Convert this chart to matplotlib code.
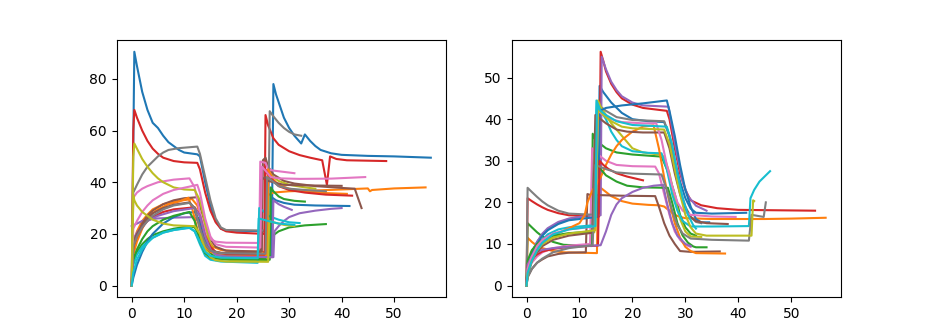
import matplotlib
matplotlib.use("Agg")
import matplotlib.pyplot as plt

# left panel: one list of (x, y) points per curve, in colour-cycle order
l01 = [(0, 0), (0.5, 90.5), (1, 85), (1.5, 80), (2, 75), (3, 68), (4, 63), (5, 61), (6, 58), (7, 55.5), (8, 54),
       (9, 52.5), (10, 51.5), (12.5, 50.8), (13, 50), (14, 40), (15, 31), (16, 25), (17, 22), (18, 21.3), (26.7, 21),
       (27, 78), (27.5, 74), (28, 71), (29, 65), (30, 61), (31, 58), (32.3, 55), (33, 58.5), (34, 56), (35, 54),
       (36, 52.5), (38, 51.2), (40, 50.6), (45, 50.2), (50, 50), (57, 49.5)]
l02 = [(0, 0), (0.3, 16), (1, 21), (2, 25), (3, 27.5), (4, 29.5), (6, 31.5), (8, 32.5), (11.5, 33.5), (12.5, 31),
       (13.5, 24), (14.5, 18), (15.5, 15), (17, 13.8), (20, 13.2), (25.8, 13), (26, 35), (27, 36), (30, 36.5),
       (35, 36.8), (40, 37.2), (45, 37.6), (45.4, 36.5), (45.8, 37), (50, 37.6), (56, 38)]
l03 = [(0, 0), (0.3, 10), (1, 13), (2, 16), (3, 18), (4, 19.5), (6, 21), (8, 22), (11, 23), (12, 22.5), (13, 19),
       (14, 15), (15, 12.5), (16, 11), (18, 10.5), (25.8, 10.3), (26, 17.5), (27, 19.5), (28, 21), (30, 22.5),
       (33, 23.3), (37, 23.8)]
l04 = [(0, 0), (0.3, 60), (0.5, 68), (1, 65), (2, 60), (3, 56), (4, 53), (5, 51), (6, 49.5), (8, 48.2), (10, 47.7),
       (12.5, 47.5), (13, 45), (14, 36), (15, 29), (16, 24.5), (17, 22), (18, 21), (20, 20.5), (25.3, 20), (25.5, 66),
       (26, 62), (27, 57), (28, 54.5), (30, 52), (32, 50.5), (34, 49.5), (36.3, 48.5), (37.2, 39), (37.8, 50),
       (39, 49), (41, 48.5), (48.5, 48.2)]
l05 = [(0, 23), (1, 24), (2, 25), (3, 25.5), (5, 26), (8, 26.3), (12, 26.5), (13, 24), (14, 18), (15, 14), (16, 12),
       (18, 11.2), (27, 11), (27.2, 21), (28, 23), (29, 25), (30, 26.5), (32, 28), (35, 29), (38, 29.7), (40, 30)]
l06 = [(0, 0), (0.3, 14), (1, 19), (2, 24), (3, 27), (4, 29), (6, 31.5), (8, 33), (10, 33.8), (12.5, 34.2), (13, 31),
       (14, 24), (15, 18), (16, 15), (18, 13.5), (24.8, 13.2), (25, 48.5), (25.5, 49.5), (26, 46), (27, 43),
       (29, 40.5), (31, 39.5), (35, 38.5), (40, 37.8), (42.5, 37.5), (43.8, 30)]
l07 = [(0, 0), (0.3, 34), (1, 36), (2, 37.5), (3, 38.5), (5, 40), (8, 41), (11, 41.5), (12, 38), (13, 28), (14, 21),
       (15, 18), (16, 17), (18, 16.6), (24.3, 16.5), (24.5, 48), (25.5, 47.5), (26, 45), (27, 44.5), (29, 44),
       (31, 43.5)]
l08 = [(0, 0), (0.3, 36), (1, 39), (2, 43), (3, 46), (4, 48), (5, 50), (6, 51.5), (7, 52.5), (9, 53.2), (12.5, 53.8),
       (13, 51), (14, 42), (15, 33), (16, 26), (17, 22.5), (18, 21.5), (26, 21.3), (26.3, 67.5), (27, 65.5),
       (28, 63), (29, 61), (30, 59.5), (31, 58.5), (32.3, 58)]
l09 = [(0, 0), (0.3, 50), (0.5, 55), (1, 53), (2, 49), (3, 46), (4, 43.5), (5, 41.5), (6, 40), (8, 38), (10, 37.2),
       (12, 37), (13, 33), (14, 24), (15, 16), (16, 12), (17, 10.5), (19, 9.8), (25.8, 9.5), (26, 44), (27, 42),
       (28, 40.5), (30, 39), (33, 38), (35, 37.5)]
l10 = [(0, 0), (0.3, 8), (1, 12), (2, 15), (3, 17), (4, 18.5), (6, 20.5), (8, 21.5), (11, 22.5), (12, 21), (13, 16),
       (14, 11.5), (15, 10), (17, 9.3), (24, 8.8), (24.3, 30), (25, 29), (26, 27), (28, 25.5), (30, 24.5), (32, 24.2)]
l11 = [(0, 0), (0.3, 3), (1, 8), (2, 13), (3, 17), (4, 20), (5, 22), (6, 24), (8, 26.5), (10, 28), (12, 28.5),
       (13, 25), (14, 18), (15, 14), (16, 12.5), (18, 11.7), (26.6, 11.5), (26.8, 34), (27.5, 33), (29, 32),
       (31, 31.3), (35, 31), (41.5, 30.8)]
l12 = [(0, 0), (0.3, 12), (1, 17), (2, 22), (3, 26), (4, 28), (5, 29.5), (7, 31.5), (9, 32.5), (10.8, 34), (11.5, 30),
       (12.5, 22), (13.5, 16), (15, 13), (17, 12), (25.8, 11.8), (26, 45), (27, 41), (28, 39), (30, 37.5), (33, 36.5),
       (37, 35.8), (41, 35.5)]
l13 = [(0, 0), (0.3, 10), (1, 14), (2, 18), (3, 21), (4, 23), (6, 25.5), (8, 27), (11, 28.5), (12, 25), (13, 17),
       (14, 12.5), (15, 10.8), (17, 10.2), (26.3, 10), (26.5, 38), (27, 36.5), (28, 34.5), (29, 33.5), (31, 32.8),
       (33, 32.5)]
l14 = [(0, 0), (0.3, 15), (1, 19), (2, 22.5), (3, 25), (4, 26.5), (6, 28.5), (8, 29.5), (12, 30.3), (13, 27), (14, 19),
       (15, 15), (16, 13), (18, 12.2), (25.3, 12), (25.5, 45), (26, 43), (27, 40.5), (28, 38.5), (30, 37), (33, 36),
       (37, 35.2), (42, 34.8)]
l15 = [(0, 0), (0.3, 18), (1, 20.5), (2, 23), (3, 25), (5, 27), (8, 28.8), (12, 30), (13, 27), (14, 19), (15, 14),
       (16, 12), (18, 11.2), (26.8, 11), (27, 33), (28, 31.5), (29, 30.5), (30.5, 29.3)]
l16 = [(0, 0), (0.3, 17), (1, 20), (2, 23.5), (3, 26), (4, 28), (6, 30), (8, 31.3), (11, 32.2), (12, 30), (13, 22),
       (14, 16), (15, 13.5), (17, 12.7), (24.5, 12.5), (24.8, 41), (25.5, 42), (26, 40.5), (27, 40), (29, 39),
       (32, 38.8), (40, 38.6)]
l17 = [(0, 0), (0.3, 22), (1, 25), (2, 28.5), (3, 31), (4, 33), (6, 35.5), (8, 37), (11, 38.3), (12.5, 39), (13, 36),
       (14, 26), (15, 19), (16, 16), (18, 15), (24.5, 14.7), (24.8, 46), (25.5, 44.5), (26.5, 42), (28, 41.5),
       (32, 41.3), (38, 41.4), (44.5, 42)]
l18 = [(0, 0), (0.3, 15), (1, 19), (2, 22.5), (3, 25), (4, 27), (6, 29.5), (8, 31), (11, 32), (12, 30), (13, 22),
       (14, 16), (15, 13.5), (17, 12.5), (25.5, 12.3), (25.8, 42), (26.5, 41), (28, 38.5), (30, 37.5), (33, 37),
       (37, 36.5)]
l19 = [(0, 0), (0.3, 35), (0.5, 33), (1, 31), (2, 28.5), (3, 27), (4, 25.5), (6, 24), (8, 23.3), (12, 23), (13, 20),
       (14, 14), (15, 11), (16, 9.8), (18, 9.3), (26, 9.2), (26.2, 25), (27, 24.5), (29, 23.5), (31, 23)]
l20 = [(0, 0), (0.3, 5), (1, 10), (2, 14), (3, 16.5), (4, 18.5), (6, 20.5), (8, 21.5), (11, 22.3), (12, 21), (13, 17),
       (14, 13), (15, 11.5), (17, 10.8), (24, 10.6), (24.2, 26), (26, 25), (28, 24), (31, 23.5)]

# right panel
r01 = [(0, 0), (0.2, 5), (1, 8), (2, 10.5), (3, 12.3), (4, 13.5), (6, 15), (8, 16), (11, 16.7), (13.5, 17),
       (13.8, 48), (14.5, 46.5), (16, 44), (18, 41.5), (20, 40), (23, 39.5), (26, 39.3), (27, 36), (28, 30), (29, 25),
       (30, 21), (31, 18.5), (32, 17.5), (35, 17.3), (41.5, 17.5)]
r02 = [(0, 0), (0.2, 11.5), (1, 10.5), (2, 9.5), (3, 9), (5, 8.3), (7, 8), (13.3, 7.8), (13.5, 24), (14.5, 23),
       (16, 21.5), (18, 20.3), (20, 19.7), (23, 19.4), (25, 19.3), (26, 19), (27, 18), (28, 17), (29, 16.5),
       (30, 16.2), (35, 16), (45, 16), (50, 16.1), (56.5, 16.3)]
r03 = [(0, 0), (0.2, 15), (1, 14), (2, 12.8), (3, 11.8), (5, 10.5), (7, 9.8), (12.3, 9.5), (12.5, 36.5), (13, 35),
       (14, 34), (15, 33), (17, 32), (20, 31.5), (25.5, 31), (26.5, 28), (28, 22), (29, 17), (30, 14), (31, 12.5),
       (32, 12)]
r04 = [(0, 0), (0.2, 21), (1, 20.3), (2, 19.5), (3, 18.8), (4, 18.2), (6, 17.4), (8, 16.9), (13.7, 16.6), (14, 56.2),
       (14.5, 54), (15, 51.5), (16, 48.5), (17, 46.5), (18, 45), (20, 43.5), (22, 42.7), (26.5, 42), (27, 40),
       (28, 33), (29, 27), (30, 23), (31, 20.5), (33, 19.3), (36, 18.6), (40, 18.2), (54.5, 18)]
r05 = [(0, 0), (0.2, 4), (1, 8), (2, 10.5), (3, 12.5), (4, 13.8), (6, 15.3), (8, 16.1), (11, 16.7), (14, 16.9),
       (14.2, 55), (15, 52), (16, 49), (17, 47), (18, 45.5), (20, 44), (22, 43.3), (26.8, 43), (27.5, 38),
       (28.5, 31), (29.5, 25), (30.5, 21.5), (32, 19.2), (34, 18)]
r06 = [(0, 0), (0.2, 2), (1, 4), (2, 5.5), (3, 6.3), (4, 7), (6, 7.6), (8, 7.9), (11.2, 8), (11.5, 22), (12, 21.8),
       (18, 21.6), (24.3, 21.5), (25, 19), (26, 15), (27, 12), (28, 10), (29, 8.3), (31, 8.1), (36.5, 8.2)]
r07 = [(0, 0), (0.2, 3), (1, 5.5), (2, 7), (3, 8), (5, 9), (8, 9.6), (12, 10), (12.4, 33), (13, 32), (14, 31),
       (15, 30), (17, 29), (20, 28.7), (24.3, 28.6), (25, 27), (26, 22), (27, 17), (28, 13), (29, 11), (30, 9.8),
       (31, 9.3)]
r08 = [(0, 0), (0.2, 23.5), (1, 22.5), (2, 21.3), (3, 20.2), (4, 19.3), (6, 18), (8, 17.3), (13, 17), (13.3, 44),
       (14, 43), (15, 42), (17, 40.5), (20, 39.8), (26, 39.5), (27, 36), (28, 29), (29, 23), (30, 19), (31, 16.5),
       (32, 15.3), (33, 15)]
r09 = [(0, 0), (0.2, 3), (1, 6), (2, 8.5), (3, 10), (4, 11), (6, 12), (8, 12.5), (12.8, 12.8), (13.5, 44.5),
       (14, 43), (15, 41), (16, 39), (18, 36), (20, 33), (22, 32), (25, 31.5), (26, 31), (27, 27), (28, 21),
       (29, 16), (30, 13), (31, 11.8), (33, 11.7)]
r10 = [(0, 0), (0.2, 2), (1, 6), (2, 9), (3, 11), (4, 12.3), (6, 13.5), (8, 14), (12.8, 14.5), (13.2, 44.5),
       (14, 42), (15, 40), (16, 37), (17, 35), (18, 33.5), (20, 32.3), (23, 31.9), (25.5, 31.8), (26.5, 28),
       (27.5, 22), (28.5, 18), (29.5, 15.5), (31, 14.2), (35, 14.2), (42, 14.3), (42.3, 21), (43, 23), (44, 25),
       (46, 27.5)]
r11 = [(0, 0), (0.2, 4), (1, 7.5), (2, 10), (3, 12), (4, 13.3), (6, 14.8), (8, 15.7), (12, 16.3), (13.5, 16.5),
       (13.8, 42), (15, 42.7), (18, 43.3), (22, 43.8), (26.5, 44.5), (27, 42), (28, 36), (29, 29), (30, 23),
       (31, 19), (32, 16), (33, 15.2), (34.5, 15.2)]
r12 = [(0, 0), (0.2, 3), (1, 6), (2, 8.5), (3, 10), (5, 12), (8, 13.8), (10, 15), (11, 17), (11.5, 20), (12.5, 23),
       (14, 26), (15, 29), (16, 31.5), (17, 33.5), (18, 35), (20, 37), (22, 38.2), (24, 38.5), (25, 33), (26, 26),
       (27, 20), (28, 15), (29, 11.5), (30, 9.3), (31, 8.3), (32, 7.8), (37.5, 7.7)]
r13 = [(0, 0), (0.2, 6), (1, 8.5), (2, 10), (3, 11), (5, 12), (8, 12.6), (12.6, 13), (13, 29), (14, 28), (15, 26.5),
       (17, 25), (19, 24), (22, 23.6), (26.7, 23.5), (27.5, 20), (28.5, 15), (29.5, 12), (30.5, 10.3), (31.5, 9.4),
       (32, 9.2), (34, 9.2)]
r14 = [(0, 0), (0.2, 5), (1, 6.5), (2, 7.5), (3, 8.2), (5, 8.8), (8, 9.3), (13.5, 9.6), (13.8, 30), (14.5, 29),
       (15.5, 28), (17, 27), (19, 26.2), (22, 25.3)]
r15 = [(0, 0), (0.2, 5), (1, 7), (2, 8), (3, 8.6), (5, 9), (8, 9.3), (14, 9.7), (15, 13), (16, 17), (17, 19.5),
       (18, 21), (20, 22.5), (22, 23.5), (24, 24), (25.8, 24.2), (26.5, 20), (27.5, 15), (28.5, 12), (30, 10),
       (31, 9.5)]
r16 = [(0, 0), (0.2, 3), (1, 6), (2, 8), (3, 9.5), (5, 11), (8, 12), (12.5, 12.7), (13, 41), (14, 40), (15, 39),
       (17, 37.5), (19, 37), (22, 36.8), (26, 36.8), (27, 33), (28, 27), (29, 22), (30, 18.5), (31, 16.5), (32, 15.5),
       (34, 15), (38, 14.8)]
r17 = [(0, 0), (0.2, 4), (1, 7), (2, 9.5), (3, 11), (5, 12.5), (8, 13.5), (13, 14.2), (13.5, 42), (14.5, 41),
       (16, 40), (18, 39.3), (22, 39), (24.5, 39), (25.5, 35), (26.5, 29), (27.5, 24), (28.5, 20), (29.5, 18),
       (31, 17), (35, 16.6), (39.5, 16.5)]
r18 = [(0, 0), (0.2, 2), (1, 4), (2, 5.5), (3, 6.5), (5, 8), (8, 9), (12.5, 9.7), (13, 29), (14, 28.5), (15, 28),
       (17, 27.2), (20, 26.9), (25.5, 26.7), (26.5, 23), (27.5, 18), (28.5, 14.5), (29.5, 12.5), (31, 11.3),
       (35, 11), (42, 10.8), (42.5, 17), (44.8, 16.5), (45.2, 20)]
r19 = [(0, 0), (0.2, 3), (1, 6), (2, 8.5), (3, 10), (5, 11.5), (8, 12.5), (13, 13.3), (13.5, 42.5), (14.5, 41),
       (16, 39.5), (18, 38.2), (20, 37.8), (26, 37.5), (27, 34), (28, 28), (29, 22), (30, 17), (31, 14), (32, 12.5),
       (34, 12), (42.5, 12), (42.8, 20.5), (43, 20.3)]
r20 = [(0, 0), (0.2, 3), (1, 6), (2, 8.5), (3, 10.3), (5, 12.3), (8, 13.5), (13, 14.3), (13.3, 43), (14, 42),
       (15, 41), (17, 39.5), (20, 38.6), (26.5, 38.2), (27.5, 34), (28.5, 27), (29.5, 21), (30.5, 17), (31.5, 14.5),
       (32, 13.7)]

left_curves = [l01, l02, l03, l04, l05, l06, l07, l08, l09, l10,
               l11, l12, l13, l14, l15, l16, l17, l18, l19, l20]
right_curves = [r01, r02, r03, r04, r05, r06, r07, r08, r09, r10,
                r11, r12, r13, r14, r15, r16, r17, r18, r19, r20]

fig, (ax1, ax2) = plt.subplots(1, 2, figsize=(9.34, 3.34), dpi=100)

for ax, curves in [(ax1, left_curves), (ax2, right_curves)]:
    for pts in curves:
        xs = [p[0] for p in pts]
        ys = [p[1] for p in pts]
        ax.plot(xs, ys)

ax1.set_yticks([0, 20, 40, 60, 80])
ax2.set_yticks([0, 10, 20, 30, 40, 50])

fig.savefig("out.png", dpi=100)
